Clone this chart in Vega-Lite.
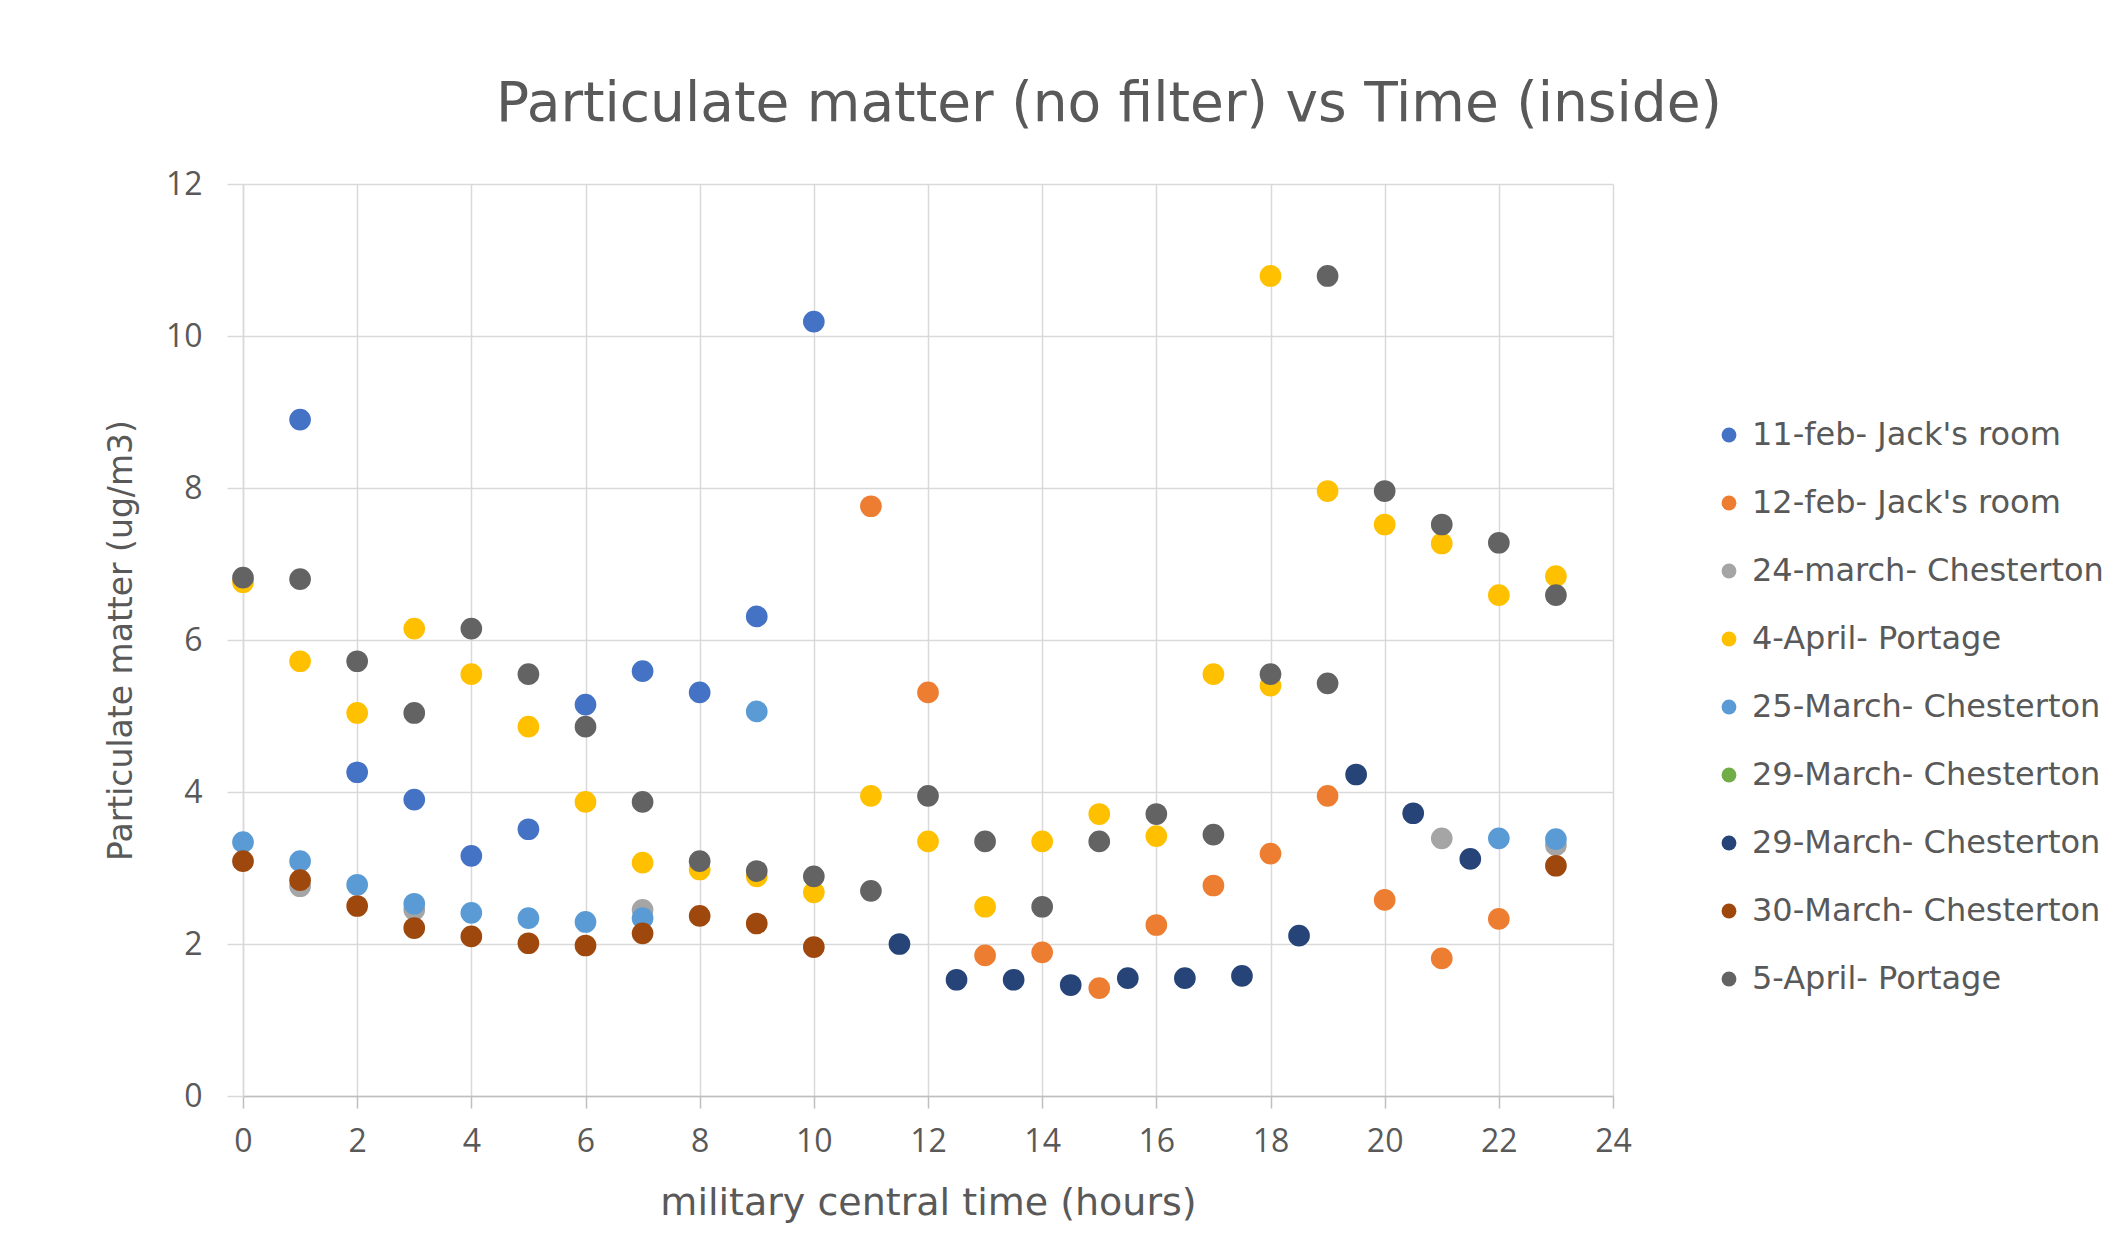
{
  "$schema": "https://vega.github.io/schema/vega-lite/v6.json",
  "autosize": {"type": "none"},
  "width": 1370,
  "height": 912,
  "padding": {"left": 243, "top": 184, "right": 507, "bottom": 141},
  "background": "#ffffff",
  "title": {
    "text": "Particulate matter (no filter) vs Time (inside)",
    "font": "DejaVu Sans",
    "fontSize": 55,
    "fontWeight": "normal",
    "color": "#595959",
    "anchor": "middle",
    "dx": 181,
    "offset": 35
  },
  "config": {
    "view": {"stroke": null},
    "font": "Open Sans"
  },
  "data": {
    "values": [
      {"series": "11-feb- Jack's room", "hour": 1, "pm": 8.9},
      {"series": "11-feb- Jack's room", "hour": 2, "pm": 4.26},
      {"series": "11-feb- Jack's room", "hour": 3, "pm": 3.9},
      {"series": "11-feb- Jack's room", "hour": 4, "pm": 3.16},
      {"series": "11-feb- Jack's room", "hour": 5, "pm": 3.51},
      {"series": "11-feb- Jack's room", "hour": 6, "pm": 5.15},
      {"series": "11-feb- Jack's room", "hour": 7, "pm": 5.59},
      {"series": "11-feb- Jack's room", "hour": 8, "pm": 5.31},
      {"series": "11-feb- Jack's room", "hour": 9, "pm": 6.31},
      {"series": "11-feb- Jack's room", "hour": 10, "pm": 10.19},
      {"series": "12-feb- Jack's room", "hour": 11, "pm": 7.76},
      {"series": "12-feb- Jack's room", "hour": 12, "pm": 5.31},
      {"series": "12-feb- Jack's room", "hour": 13, "pm": 1.85},
      {"series": "12-feb- Jack's room", "hour": 14, "pm": 1.89},
      {"series": "12-feb- Jack's room", "hour": 15, "pm": 1.42},
      {"series": "12-feb- Jack's room", "hour": 16, "pm": 2.25},
      {"series": "12-feb- Jack's room", "hour": 17, "pm": 2.77},
      {"series": "12-feb- Jack's room", "hour": 18, "pm": 3.19},
      {"series": "12-feb- Jack's room", "hour": 19, "pm": 3.95},
      {"series": "12-feb- Jack's room", "hour": 20, "pm": 2.58},
      {"series": "12-feb- Jack's room", "hour": 21, "pm": 1.81},
      {"series": "12-feb- Jack's room", "hour": 22, "pm": 2.33},
      {"series": "24-march- Chesterton", "hour": 1, "pm": 2.76},
      {"series": "24-march- Chesterton", "hour": 3, "pm": 2.45},
      {"series": "24-march- Chesterton", "hour": 7, "pm": 2.45},
      {"series": "24-march- Chesterton", "hour": 21, "pm": 3.39},
      {"series": "24-march- Chesterton", "hour": 23, "pm": 3.3},
      {"series": "4-April- Portage", "hour": 0, "pm": 6.76},
      {"series": "4-April- Portage", "hour": 1, "pm": 5.72},
      {"series": "4-April- Portage", "hour": 2, "pm": 5.04},
      {"series": "4-April- Portage", "hour": 3, "pm": 6.15},
      {"series": "4-April- Portage", "hour": 4, "pm": 5.55},
      {"series": "4-April- Portage", "hour": 5, "pm": 4.86},
      {"series": "4-April- Portage", "hour": 6, "pm": 3.87},
      {"series": "4-April- Portage", "hour": 7, "pm": 3.07},
      {"series": "4-April- Portage", "hour": 8, "pm": 2.98},
      {"series": "4-April- Portage", "hour": 9, "pm": 2.89},
      {"series": "4-April- Portage", "hour": 10, "pm": 2.68},
      {"series": "4-April- Portage", "hour": 11, "pm": 3.95},
      {"series": "4-April- Portage", "hour": 12, "pm": 3.35},
      {"series": "4-April- Portage", "hour": 13, "pm": 2.49},
      {"series": "4-April- Portage", "hour": 14, "pm": 3.35},
      {"series": "4-April- Portage", "hour": 15, "pm": 3.71},
      {"series": "4-April- Portage", "hour": 16, "pm": 3.42},
      {"series": "4-April- Portage", "hour": 17, "pm": 5.55},
      {"series": "4-April- Portage", "hour": 18, "pm": 5.4},
      {"series": "4-April- Portage", "hour": 18, "pm": 10.79},
      {"series": "4-April- Portage", "hour": 19, "pm": 7.96},
      {"series": "4-April- Portage", "hour": 20, "pm": 7.52},
      {"series": "4-April- Portage", "hour": 21, "pm": 7.27},
      {"series": "4-April- Portage", "hour": 22, "pm": 6.59},
      {"series": "4-April- Portage", "hour": 23, "pm": 6.84},
      {"series": "25-March- Chesterton", "hour": 0, "pm": 3.34},
      {"series": "25-March- Chesterton", "hour": 1, "pm": 3.09},
      {"series": "25-March- Chesterton", "hour": 2, "pm": 2.78},
      {"series": "25-March- Chesterton", "hour": 3, "pm": 2.53},
      {"series": "25-March- Chesterton", "hour": 4, "pm": 2.41},
      {"series": "25-March- Chesterton", "hour": 5, "pm": 2.34},
      {"series": "25-March- Chesterton", "hour": 6, "pm": 2.29},
      {"series": "25-March- Chesterton", "hour": 7, "pm": 2.34},
      {"series": "25-March- Chesterton", "hour": 9, "pm": 5.06},
      {"series": "25-March- Chesterton", "hour": 22, "pm": 3.39},
      {"series": "25-March- Chesterton", "hour": 23, "pm": 3.38},
      {"series": "29-March- Chesterton #2", "hour": 11.5, "pm": 2.0},
      {"series": "29-March- Chesterton #2", "hour": 12.5, "pm": 1.53},
      {"series": "29-March- Chesterton #2", "hour": 13.5, "pm": 1.53},
      {"series": "29-March- Chesterton #2", "hour": 14.5, "pm": 1.46},
      {"series": "29-March- Chesterton #2", "hour": 15.5, "pm": 1.55},
      {"series": "29-March- Chesterton #2", "hour": 16.5, "pm": 1.55},
      {"series": "29-March- Chesterton #2", "hour": 17.5, "pm": 1.58},
      {"series": "29-March- Chesterton #2", "hour": 18.5, "pm": 2.11},
      {"series": "29-March- Chesterton #2", "hour": 19.5, "pm": 4.23},
      {"series": "29-March- Chesterton #2", "hour": 20.5, "pm": 3.72},
      {"series": "29-March- Chesterton #2", "hour": 21.5, "pm": 3.12},
      {"series": "30-March- Chesterton", "hour": 0, "pm": 3.09},
      {"series": "30-March- Chesterton", "hour": 1, "pm": 2.84},
      {"series": "30-March- Chesterton", "hour": 2, "pm": 2.5},
      {"series": "30-March- Chesterton", "hour": 3, "pm": 2.21},
      {"series": "30-March- Chesterton", "hour": 4, "pm": 2.1},
      {"series": "30-March- Chesterton", "hour": 5, "pm": 2.01},
      {"series": "30-March- Chesterton", "hour": 6, "pm": 1.98},
      {"series": "30-March- Chesterton", "hour": 7, "pm": 2.14},
      {"series": "30-March- Chesterton", "hour": 8, "pm": 2.37},
      {"series": "30-March- Chesterton", "hour": 9, "pm": 2.27},
      {"series": "30-March- Chesterton", "hour": 10, "pm": 1.96},
      {"series": "30-March- Chesterton", "hour": 23, "pm": 3.03},
      {"series": "5-April- Portage", "hour": 0, "pm": 6.82},
      {"series": "5-April- Portage", "hour": 1, "pm": 6.8},
      {"series": "5-April- Portage", "hour": 2, "pm": 5.72},
      {"series": "5-April- Portage", "hour": 3, "pm": 5.04},
      {"series": "5-April- Portage", "hour": 4, "pm": 6.15},
      {"series": "5-April- Portage", "hour": 5, "pm": 5.55},
      {"series": "5-April- Portage", "hour": 6, "pm": 4.86},
      {"series": "5-April- Portage", "hour": 7, "pm": 3.87},
      {"series": "5-April- Portage", "hour": 8, "pm": 3.09},
      {"series": "5-April- Portage", "hour": 9, "pm": 2.96},
      {"series": "5-April- Portage", "hour": 10, "pm": 2.89},
      {"series": "5-April- Portage", "hour": 11, "pm": 2.7},
      {"series": "5-April- Portage", "hour": 12, "pm": 3.95},
      {"series": "5-April- Portage", "hour": 13, "pm": 3.35},
      {"series": "5-April- Portage", "hour": 14, "pm": 2.49},
      {"series": "5-April- Portage", "hour": 15, "pm": 3.35},
      {"series": "5-April- Portage", "hour": 16, "pm": 3.71},
      {"series": "5-April- Portage", "hour": 17, "pm": 3.44},
      {"series": "5-April- Portage", "hour": 18, "pm": 5.55},
      {"series": "5-April- Portage", "hour": 19, "pm": 5.43},
      {"series": "5-April- Portage", "hour": 19, "pm": 10.79},
      {"series": "5-April- Portage", "hour": 20, "pm": 7.96},
      {"series": "5-April- Portage", "hour": 21, "pm": 7.52},
      {"series": "5-April- Portage", "hour": 22, "pm": 7.28},
      {"series": "5-April- Portage", "hour": 23, "pm": 6.59}
    ]
  },
  "mark": {"type": "point", "filled": true, "opacity": 1, "size": 470, "shape": "circle"},
  "encoding": {
    "x": {
      "field": "hour",
      "type": "quantitative",
      "scale": {"domain": [0, 24], "nice": false, "zero": false},
      "axis": {
        "title": "military central time (hours)",
        "values": [0, 2, 4, 6, 8, 10, 12, 14, 16, 18, 20, 22, 24],
        "grid": true,
        "gridColor": "#D9D9D9",
        "gridWidth": 1.5,
        "domainColor": "#BFBFBF",
        "domainWidth": 1.5,
        "tickColor": "#BFBFBF",
        "tickWidth": 1.5,
        "tickSize": 12,
        "labelFont": "Open Sans",
        "labelFontSize": 32,
        "labelColor": "#595959",
        "labelPadding": 18,
        "labelFlush": false,
        "titleFont": "DejaVu Sans",
        "titleFontSize": 38,
        "titleFontWeight": "normal",
        "titleColor": "#595959",
        "titlePadding": 27
      }
    },
    "y": {
      "field": "pm",
      "type": "quantitative",
      "scale": {"domain": [0, 12], "nice": false},
      "axis": {
        "title": "Particulate matter (ug/m3)",
        "values": [0, 2, 4, 6, 8, 10, 12],
        "grid": true,
        "gridColor": "#D9D9D9",
        "gridWidth": 1.5,
        "domainColor": "#D9D9D9",
        "domainWidth": 1.5,
        "tickColor": "#D9D9D9",
        "tickWidth": 1.5,
        "tickSize": 16,
        "labelFont": "Open Sans",
        "labelFontSize": 32,
        "labelColor": "#595959",
        "labelPadding": 25,
        "labelFlush": false,
        "titleFont": "DejaVu Sans",
        "titleFontSize": 33,
        "titleFontWeight": "normal",
        "titleColor": "#595959",
        "titlePadding": 27
      }
    },
    "color": {
      "field": "series",
      "type": "nominal",
      "scale": {
        "domain": ["11-feb- Jack's room", "12-feb- Jack's room", "24-march- Chesterton", "4-April- Portage", "25-March- Chesterton", "29-March- Chesterton", "29-March- Chesterton #2", "30-March- Chesterton", "5-April- Portage"],
        "range": ["#4472C4", "#ED7D31", "#A5A5A5", "#FFC000", "#5B9BD5", "#70AD47", "#264478", "#9E480E", "#636363"]
      },
      "legend": {
        "title": null,
        "orient": "none",
        "legendX": 1470,
        "legendY": 235,
        "symbolType": "circle",
        "symbolSize": 220,
        "symbolStrokeWidth": 0,
        "labelFont": "DejaVu Sans",
        "labelFontSize": 32,
        "labelColor": "#595959",
        "labelLimit": 1000,
        "labelOffset": 7,
        "rowPadding": 36,
        "labelExpr": "replace(datum.label, ' #2', '')"
      }
    }
  }
}
